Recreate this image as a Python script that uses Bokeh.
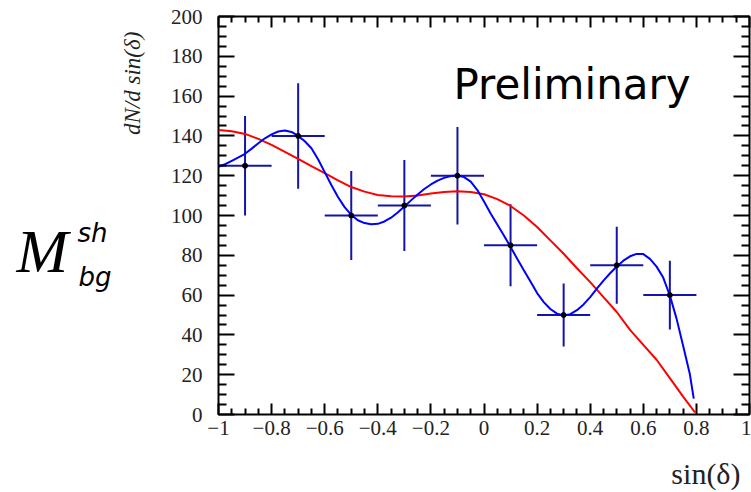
import numpy as np
from bokeh.plotting import figure
from bokeh.layouts import row, column
from bokeh.models import Range1d, LinearAxis, FixedTicker, Label
from bokeh.core.properties import value
from bokeh.embed import file_html
from bokeh.resources import INLINE

# ---------------- data ----------------
bin_centers = [-0.9, -0.7, -0.5, -0.3, -0.1, 0.1, 0.3, 0.5, 0.7]
bin_half_width = [0.1, 0.1, 0.1, 0.1, 0.1, 0.1, 0.1, 0.1, 0.1]
counts = [125, 140, 100, 105, 120, 85, 50, 75, 60]
count_errors = [25.0, 26.5, 22.4, 22.9, 24.5, 20.6, 15.8, 19.4, 17.3]

blue_x = [-1.0, -0.975, -0.95, -0.925, -0.9, -0.875, -0.85, -0.825, -0.8, -0.775,
          -0.75, -0.725, -0.7, -0.675, -0.65, -0.625, -0.6, -0.575, -0.55, -0.525,
          -0.5, -0.475, -0.45, -0.425, -0.4, -0.375, -0.35, -0.325, -0.3, -0.275,
          -0.25, -0.225, -0.2, -0.175, -0.15, -0.125, -0.1, -0.075, -0.05, -0.025,
          0.0, 0.025, 0.05, 0.075, 0.1, 0.125, 0.15, 0.175, 0.2, 0.225,
          0.25, 0.275, 0.3, 0.325, 0.35, 0.375, 0.4, 0.425, 0.45, 0.475,
          0.5, 0.525, 0.55, 0.575, 0.6, 0.625, 0.65, 0.675, 0.7, 0.725,
          0.75, 0.775, 0.79]
blue_y = [124.5, 125.8, 127.5, 129.2, 131.0, 133.6, 136.3, 138.8, 140.8, 142.2,
          142.7, 142.0, 140.0, 137.3, 133.8, 128.3, 121.8, 115.3, 109.3, 104.2,
          100.3, 97.6, 96.2, 95.6, 95.8, 97.0, 98.9, 101.5, 104.5, 107.6,
          110.6, 113.3, 115.6, 117.5, 118.9, 119.8, 120.1, 119.3, 117.0, 112.8,
          107.0, 101.0, 95.5, 90.0, 84.2, 78.3, 72.5, 66.8, 61.0, 56.5,
          53.0, 50.7, 49.8, 50.4, 52.4, 55.3, 59.0, 63.2, 67.3, 71.0,
          74.4, 77.3, 79.5, 80.7, 80.6, 78.2, 74.3, 68.8, 59.8, 48.3,
          34.6, 20.5, 8.0]

red_x = [-1.0, -0.95, -0.9, -0.85, -0.8, -0.75, -0.7, -0.65, -0.6, -0.55, -0.5,
         -0.45, -0.4, -0.35, -0.3, -0.25, -0.2, -0.15, -0.1, -0.05, 0.0, 0.05,
         0.1, 0.15, 0.2, 0.25, 0.3, 0.35, 0.4, 0.45, 0.5, 0.55, 0.6, 0.65, 0.7,
         0.75, 0.795]
red_y = [143.0, 142.3, 141.0, 138.5, 135.5, 132.0, 128.5, 124.8, 121.3, 117.6, 114.3,
         112.0, 110.3, 109.7, 109.5, 110.0, 111.0, 111.8, 112.2, 111.8, 110.7, 108.2,
         104.8, 100.0, 94.2, 87.5, 80.8, 73.5, 66.5, 59.0, 51.5, 42.5, 35.0, 27.5, 18.3,
         9.0, 1.0]

x_tick_values = [-1, -0.8, -0.6, -0.4, -0.2, 0, 0.2, 0.4, 0.6, 0.8, 1]
x_tick_labels = ["\u22121", "\u22120.8", "\u22120.6", "\u22120.4", "\u22120.2", "0",
                 "0.2", "0.4", "0.6", "0.8", "1"]
y_tick_values = [0, 20, 40, 60, 80, 100, 120, 140, 160, 180, 200]
y_tick_labels = ["0", "20", "40", "60", "80", "100", "120", "140", "160", "180", "200"]

# ---------------- layout constants ----------------
W, H = 751, 492
LEFT_W = 150                 # width of the side panel holding the big label
TOP_H = 450                  # height of the row holding the plot
FL, FR, FT, FB = 218, 749, 16, 414   # frame edges in page pixels

SERIF = "Liberation Serif"


def dx(px):
    return -1 + (px - FL) * 2.0 / (FR - FL)


def dy(py):
    return 200 - (py - FT) * 200.0 / (FB - FT)


def blank(fig):
    fig.xgrid.visible = False
    fig.ygrid.visible = False
    fig.outline_line_color = None
    fig.background_fill_color = "white"
    fig.border_fill_color = "white"


# ---------------- main plot ----------------
p = figure(width=W - LEFT_W, height=TOP_H, x_range=Range1d(-1, 1), y_range=Range1d(0, 200),
           output_backend="svg", toolbar_location=None,
           x_axis_location=None, y_axis_location=None,
           min_border_left=FL - LEFT_W, min_border_right=W - FR, min_border_top=FT,
           min_border_bottom=TOP_H - FB)
p.xgrid.visible = False
p.ygrid.visible = False
p.outline_line_color = "black"
p.outline_line_width = 2
p.background_fill_color = "white"
p.border_fill_color = "white"

x_minor = [round(-1 + 0.05 * i, 3) for i in range(41)]
x_minor = [v for v in x_minor if all(abs(v - t) > 1e-9 for t in x_tick_values)]
y_minor = [5 * i for i in range(41) if (5 * i) % 20 != 0]


def make_axis(ticks, minor, labels, show, major_len, minor_len, standoff):
    ax = LinearAxis(ticker=FixedTicker(ticks=ticks, minor_ticks=minor))
    ax.axis_line_color = None
    ax.major_tick_in = major_len
    ax.major_tick_out = 0
    ax.minor_tick_in = minor_len
    ax.minor_tick_out = 0
    ax.major_tick_line_width = 2
    ax.minor_tick_line_width = 2
    ax.major_tick_line_color = "black"
    ax.minor_tick_line_color = "black"
    if show:
        ax.major_label_overrides = {t: l for t, l in zip(ticks, labels)}
        ax.major_label_text_font = SERIF
        ax.major_label_text_font_size = "21px"
        ax.major_label_text_color = "#222222"
        ax.major_label_standoff = standoff
    else:
        ax.major_label_overrides = {t: "" for t in ticks}
        ax.major_label_text_font_size = "0px"
        ax.major_label_standoff = 0
    return ax


p.add_layout(make_axis(x_tick_values, x_minor, x_tick_labels, True, 11, 6, 6), "below")
p.add_layout(make_axis(x_tick_values, x_minor, x_tick_labels, False, 11, 6, 0), "above")
p.add_layout(make_axis(y_tick_values, y_minor, y_tick_labels, True, 16, 8, 16), "left")
p.add_layout(make_axis(y_tick_values, y_minor, y_tick_labels, False, 16, 8, 0), "right")

xc = np.array(bin_centers)
xe = np.array(bin_half_width)
yc = np.array(counts, dtype=float)
ye = np.array(count_errors)

bar_color = "#1414a8"
p.segment(x0=xc - xe, y0=yc, x1=xc + xe, y1=yc, line_color=bar_color, line_width=2)
p.segment(x0=xc, y0=yc - ye, x1=xc, y1=yc + ye, line_color=bar_color, line_width=2)
p.line(red_x, red_y, line_color="#ff0000", line_width=2)
p.line(blue_x, blue_y, line_color="#0000ff", line_width=2)
p.scatter(xc, yc, size=5, color="black")

p.add_layout(Label(x=dx(453), y=dy(84), text="Preliminary", text_font="DejaVu Sans",
                   text_font_size="42px", text_color="black",
                   text_baseline="alphabetic", text_align="left"))

# ---------------- side panel with the big symbol and the y title ----------------
side = figure(width=LEFT_W, height=TOP_H, x_range=Range1d(0, LEFT_W),
              y_range=Range1d(0, TOP_H), output_backend="svg", toolbar_location=None,
              x_axis_location=None, y_axis_location=None, min_border=0)
blank(side)


def sy(py):
    return TOP_H - py


side.text(x=[16], y=[sy(265)], text=["M"], text_font=value(SERIF),
          text_font_style="italic", text_font_size="62px", text_color="black",
          text_baseline="alphabetic", text_align="left")
side.text(x=[77], y=[sy(245)], text=["sh"], text_font=value("DejaVu Sans"),
          text_font_style="italic", text_font_size="26px", text_color="black",
          text_baseline="alphabetic", text_align="left")
side.text(x=[78], y=[sy(295)], text=["bg"], text_font=value("DejaVu Sans"),
          text_font_style="italic", text_font_size="26px", text_color="black",
          text_baseline="alphabetic", text_align="left")

# rotated y title (reads bottom to top)
side.text(x=[132], y=[sy(134)], text=["dN/d sin(\u03b4)"], angle=np.pi / 2,
          text_font=value(SERIF), text_font_style="italic", text_font_size="23px",
          text_color="#222222", text_baseline="middle", text_align="left")

# ---------------- bottom strip with the x title ----------------
BOT_H = H - TOP_H
strip = figure(width=W, height=BOT_H, x_range=Range1d(0, W), y_range=Range1d(0, BOT_H),
               output_backend="svg", toolbar_location=None,
               x_axis_location=None, y_axis_location=None, min_border=0)
blank(strip)
strip.text(x=[740], y=[BOT_H - (473 - TOP_H)], text=["sin(\u03b4)"],
           text_font=value(SERIF), text_font_style="normal", text_font_size="30px",
           text_color="#222222", text_baseline="middle", text_align="right")

layout = column(row(side, p, spacing=0), strip, spacing=0)
open("out.html", "w").write(file_html(layout, INLINE))
